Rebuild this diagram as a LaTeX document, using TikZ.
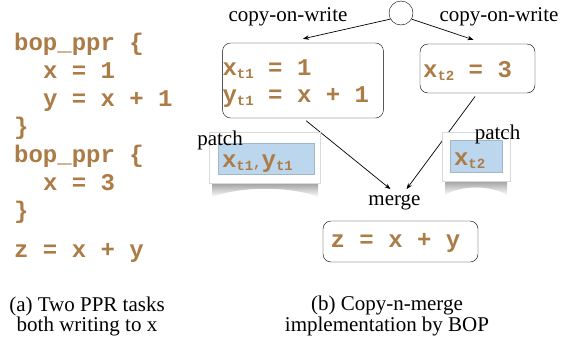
\documentclass[tikz,border=0pt]{standalone}
\usepackage{fontspec}
\setmainfont{Liberation Serif}
\setmonofont{Liberation Mono}
\usetikzlibrary{arrows.meta,positioning}

\definecolor{codebrown}{RGB}{172,124,70}
\definecolor{patchblue}{RGB}{188,214,238}

% small subscript in the code font
\newcommand{\tsub}[1]{\raisebox{-3pt}{\fontsize{14}{14}\selectfont #1}}

\begin{document}
\begin{tikzpicture}[
  x=1pt, y=-1pt,
  code/.style={
    inner sep=0pt,
    text=codebrown,
    font=\ttfamily\bfseries\fontsize{24}{27}\selectfont
  },
  label/.style={
    inner sep=0pt,
    font=\fontsize{21}{19}\selectfont
  },
  codebox/.style={
    draw,
    rounded corners=8pt,
    align=left,
    inner xsep=0pt,
    text=codebrown,
    font=\ttfamily\bfseries\fontsize{24}{27}\selectfont
  },
  card/.style={
    draw=black!15,
    fill=white,
    inner sep=0pt
  },
  patchtext/.style={
    draw=patchblue!85!black,
    fill=patchblue,
    align=left,
    inner xsep=4pt,
    text height=18pt,
    text depth=0pt,
    text=codebrown,
    font=\ttfamily\bfseries\fontsize{24}{27}\selectfont
  },
  shadow/.style={top color=black!45, bottom color=white},
  arrow/.style={-{Stealth[length=6pt,width=4.5pt]}, line width=0.7pt}
]
\useasboundingbox (0,0) rectangle (565,343);

% (a) the program
\node[code, anchor=base west] (ppra)   at (14,50)  {bop\_ppr \{};
\node[code, anchor=base west] (xa)     at (14,78)  {\phantom{xx}x = 1};
\node[code, anchor=base west] (ya)     at (14,106) {\phantom{xx}y = x + 1};
\node[code, anchor=base west] (closea) at (14,134) {\}};
\node[code, anchor=base west] (pprb)   at (14,162) {bop\_ppr \{};
\node[code, anchor=base west] (xb)     at (14,190) {\phantom{xx}x = 3};
\node[code, anchor=base west] (closeb) at (14,218) {\}};
\node[code, anchor=base west] (zsum)   at (14,257) {z = x + y};

% (b) copy and merge
\node[draw, circle, minimum size=24pt, inner sep=0pt] (fork) at (401,13) {};
\node[label] (cowl) at (288,17) {copy-on-write};
\node[label] (cowr) at (499,17) {copy-on-write};

\node[codebox, minimum width=160pt, minimum height=75pt] (lbox) at (303,80.5)
  {\rule{0pt}{22pt}x\tsub{t1} = 1\hspace*{72pt}\\y\tsub{t1} = x + 1\hspace*{3pt}};
\node[codebox, minimum width=115pt, minimum height=49pt, text height=22pt] (rbox) at (477.5,68.5)
  {x\tsub{t2} = 3\hspace*{20pt}};

\node[label] (merge) at (394.5,202) {merge};
\node[codebox, minimum width=155pt, minimum height=41pt,
      text height=17pt, text depth=5pt] (mbox) at (400.5,241.5)
  {z = x + y\hspace*{10pt}};

\draw[arrow] (fork.-150) -- ([yshift=4pt]lbox.north);
\draw[arrow] (fork.-30) -- ([xshift=-4pt,yshift=4pt]rbox.north);
\draw[arrow, shorten <=4pt] (lbox.south) -- ([xshift=-4pt,yshift=5pt]merge.north);
\draw[arrow, shorten <=4pt] (rbox.south) -- ([xshift=12pt,yshift=5pt]merge.north);

% patches with curled shadows
\shade[shadow]
  (212,180) -- (212,197) .. controls (240,186) and (292,186) .. (318,197) -- (318,180) -- cycle;
\shade[shadow]
  (445,178) -- (445,195) .. controls (460,185) and (492,185) .. (507,195) -- (507,178) -- cycle;

\node[card, minimum width=111pt, minimum height=51pt] (lpatch) at (264.5,157.5) {};
\node[patchtext, text width=88pt, minimum height=31pt] (lpatchtxt) at (266,158.5)
  {x\tsub{t1}\fontsize{14}{14}\selectfont,\fontsize{24}{27}\selectfont y\tsub{t1}};
\node[card, minimum width=68pt, minimum height=49pt] (rpatch) at (476,156.5) {};
\node[patchtext, text width=44pt, minimum height=32pt] (rpatchtxt) at (476,156)
  {x\tsub{t2}};

\node[label] (lpatchlbl) at (220,140) {patch};
\node[label] (rpatchlbl) at (497.5,134) {patch};

% captions
\node[label, align=center] (capa) at (87,316) {(a) Two PPR tasks\\both writing to x};
\node[label, align=center] (capb) at (387,316) {(b) Copy-n-merge\\implementation by BOP};

\end{tikzpicture}
\end{document}
